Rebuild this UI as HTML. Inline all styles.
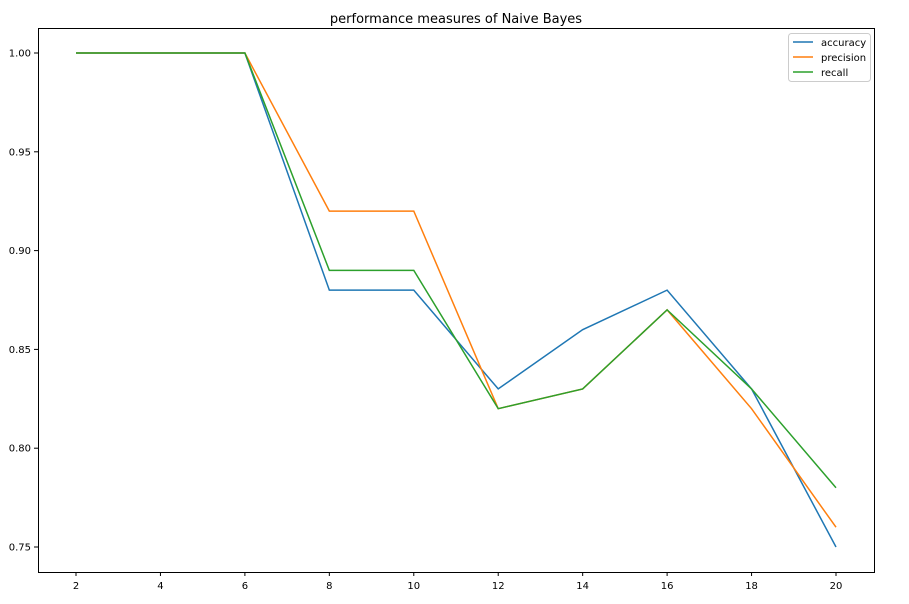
<!DOCTYPE html>
<html><head><meta charset="utf-8"><style>
body{margin:0;background:#fff;font-family:"Liberation Sans","DejaVu Sans",sans-serif;}
svg text{font-family:"DejaVu Sans","Liberation Sans",sans-serif;}
</style></head><body>
<svg id="chart" width="909" height="599" xmlns="http://www.w3.org/2000/svg">
<text x="456" y="23" font-size="13" text-anchor="middle" fill="#000">performance measures of Naive Bayes</text>
<g id="grid"></g>
<g id="series"></g>
<rect x="38.5" y="28.5" width="836" height="544" fill="none" stroke="#000" stroke-width="1"/>
<g>
<rect x="788.5" y="33.5" width="82" height="48" rx="3" fill="#fff" stroke="#ccc"/>
<line x1="793" y1="42" x2="813" y2="42" stroke="#1f77b4" stroke-width="1.5"/>
<text x="821" y="46" font-size="10">accuracy</text>
<line x1="793" y1="57" x2="813" y2="57" stroke="#ff7f0e" stroke-width="1.5"/>
<text x="821" y="61" font-size="10">precision</text>
<line x1="793" y1="72" x2="813" y2="72" stroke="#2ca02c" stroke-width="1.5"/>
<text x="821" y="76" font-size="10">recall</text>
</g>
</svg>
<script>
const xValues=[2,4,6,8,10,12,14,16,18,20];
const accuracy=[1,1,1,0.88,0.88,0.83,0.86,0.88,0.83,0.75];
const precision=[1,1,1,0.92,0.92,0.82,0.83,0.87,0.82,0.76];
const recall=[1,1,1,0.89,0.89,0.82,0.83,0.87,0.83,0.78];
const xTicks=[2,4,6,8,10,12,14,16,18,20];
const yTicks=[0.75,0.80,0.85,0.90,0.95,1.00];
const NS="http://www.w3.org/2000/svg";
function xs(v){return 76+(v-2)*(760/18);}
function ys(v){return 53+(1-v)*1976;}
const g=document.getElementById('grid');
xTicks.forEach(t=>{
 const l=document.createElementNS(NS,'line');
 
 
 l.setAttribute('x1',xs(t));l.setAttribute('x2',xs(t));l.setAttribute('y1',572);l.setAttribute('y2',576);l.setAttribute('stroke','#000');
 g.appendChild(l);
 const tx=document.createElementNS(NS,'text');
 
 
 tx.setAttribute('x',xs(t));tx.setAttribute('y',589);tx.setAttribute('font-size','10');tx.setAttribute('text-anchor','middle');
 tx.textContent=t;g.appendChild(tx);
});
yTicks.forEach(t=>{
 const l=document.createElementNS(NS,'line');
 
 
 l.setAttribute('x1',34);l.setAttribute('x2',38);l.setAttribute('y1',ys(t));l.setAttribute('y2',ys(t));l.setAttribute('stroke','#000');
 g.appendChild(l);
 const tx=document.createElementNS(NS,'text');
 
 
 tx.setAttribute('x',31);tx.setAttribute('y',ys(t)+3.5);tx.setAttribute('font-size','10');tx.setAttribute('text-anchor','end');
 tx.textContent=t.toFixed(2);g.appendChild(tx);
});
const s=document.getElementById('series');
[[accuracy,'#1f77b4','accuracy'],[precision,'#ff7f0e','precision'],[recall,'#2ca02c','recall']].forEach(([d,c,n])=>{
 const p=document.createElementNS(NS,'polyline');
 
 
 p.setAttribute('points',d.map((v,i)=>xs(xValues[i])+','+ys(v)).join(' '));
 p.setAttribute('fill','none');p.setAttribute('stroke',c);p.setAttribute('stroke-width','1.5');
 s.appendChild(p);
});
</script>
</body></html>
